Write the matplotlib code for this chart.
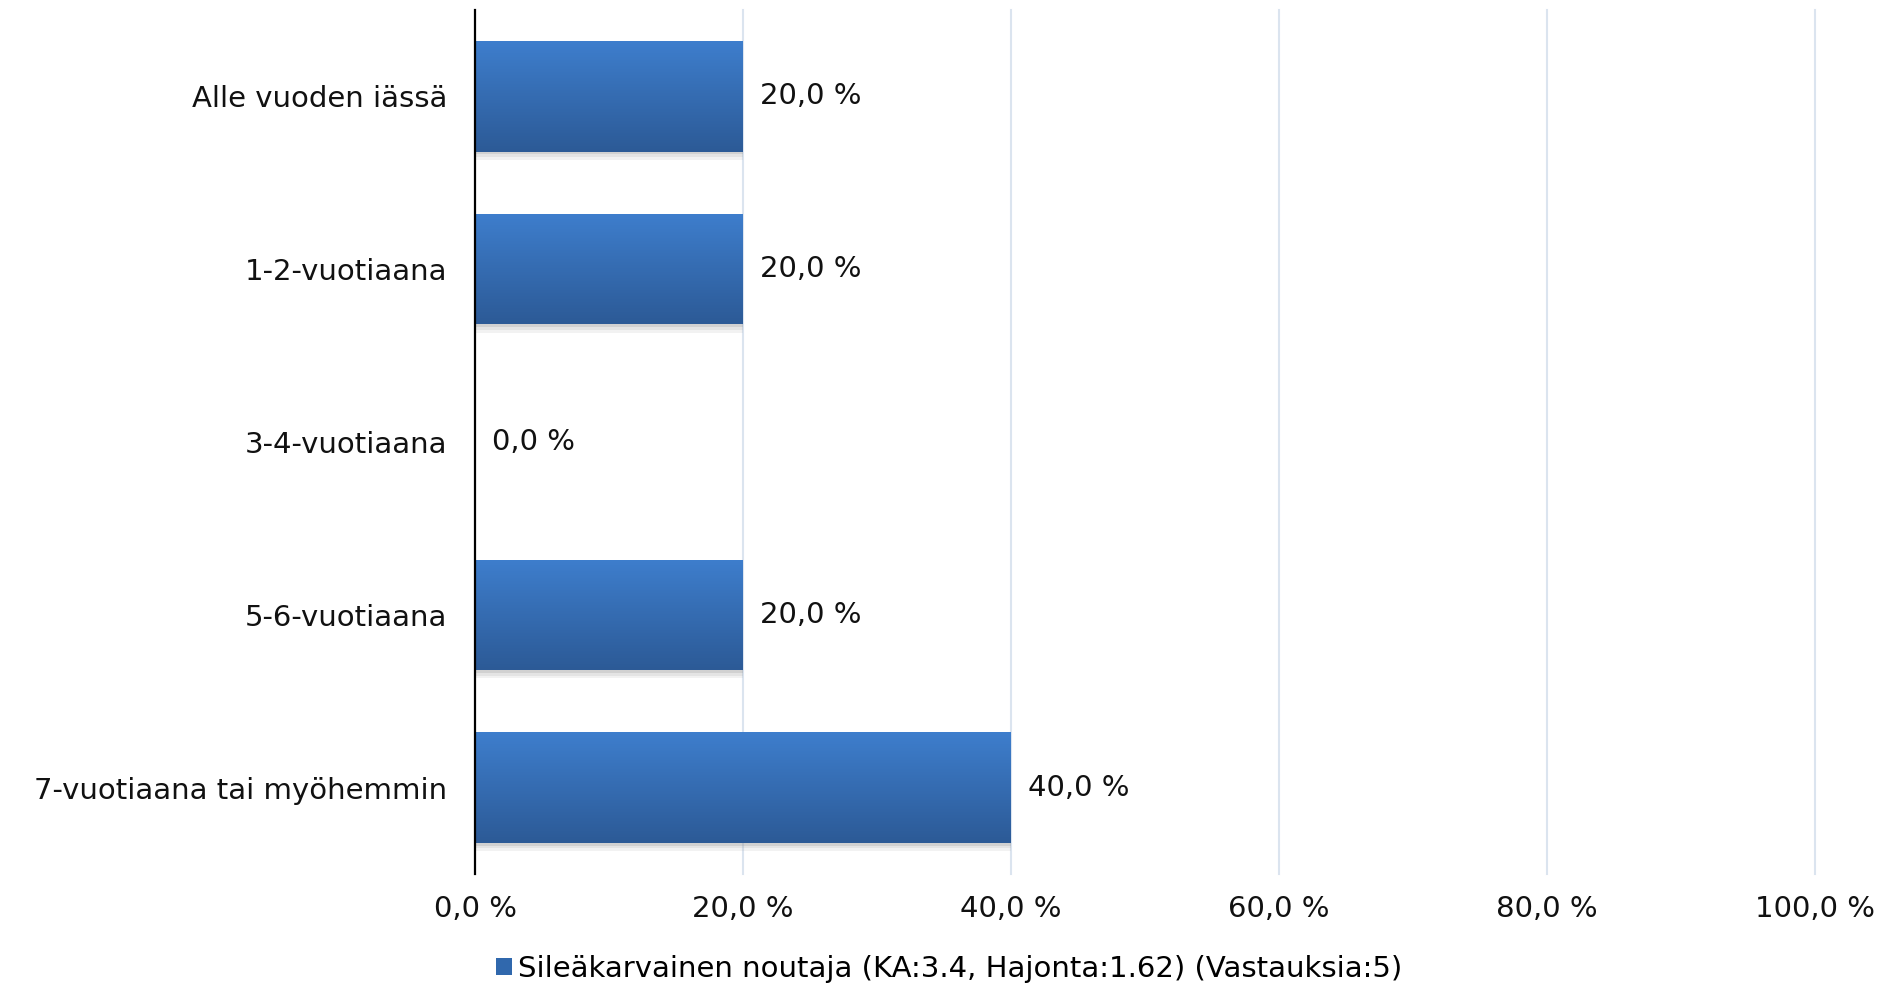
import numpy as np
import matplotlib
matplotlib.use("Agg")
import matplotlib.pyplot as plt
import matplotlib.patheffects as pe
from matplotlib.patches import Patch

categories = ["Alle vuoden iässä", "1-2-vuotiaana", "3-4-vuotiaana",
              "5-6-vuotiaana", "7-vuotiaana tai myöhemmin"]
values = [20.0, 20.0, 0.0, 20.0, 40.0]
xticks = [0, 20, 40, 60, 80, 100]
xtick_labels = ["0,0 %", "20,0 %", "40,0 %", "60,0 %", "80,0 %", "100,0 %"]
value_labels = ["20,0 %", "20,0 %", "0,0 %", "20,0 %", "40,0 %"]
legend_label = "Sileäkarvainen noutaja (KA:3.4, Hajonta:1.62) (Vastauksia:5)"

plt.rcParams['font.family'] = ['DejaVu Sans']
FS = 21

fig = plt.figure(figsize=(18.99, 9.89), dpi=100)
ax = fig.add_axes([475/1899, 1-874/989, (1815-475)/1899, (874-10)/989])

ypos = np.arange(len(categories))
bars = ax.barh(ypos, values, height=0.64, color="#3570b8", zorder=3,
               path_effects=[pe.SimplePatchShadow(offset=(0, -6), shadow_rgbFace="#999999", alpha=0.12),
                             pe.SimplePatchShadow(offset=(0, -4), shadow_rgbFace="#999999", alpha=0.15),
                             pe.SimplePatchShadow(offset=(0, -2), shadow_rgbFace="#888888", alpha=0.2),
                             pe.Normal()])

top_c = np.array([0x3e, 0x7e, 0xcd]) / 255
bot_c = np.array([0x2c, 0x5a, 0x96]) / 255
t = np.linspace(0, 1, 256)[:, None]
grad = (top_c[None, :] * (1 - t) + bot_c[None, :] * t)[:, None, :]

for b in bars:
    w = b.get_width()
    if w <= 0:
        continue
    y0 = b.get_y()
    h = b.get_height()
    im = ax.imshow(grad, extent=[0, w, y0 + h, y0], aspect='auto', zorder=4,
                   interpolation='bilinear')
    im.set_clip_path(b)

ax.set_xlim(0, 100)
ax.set_ylim(len(categories) - 0.5, -0.5)
ax.set_yticks(ypos)
ax.set_yticklabels(categories, fontsize=FS, color="#111111")
ax.set_xticks(xticks)
ax.set_xticklabels(xtick_labels, fontsize=FS, color="#111111")
ax.tick_params(axis='both', length=0)
ax.tick_params(axis='y', pad=20)
ax.tick_params(axis='x', pad=15)

for x in xticks[1:]:
    ax.axvline(x, color="#dbe4ef", lw=1.5, zorder=1, clip_on=False)

for s in ["top", "right", "bottom"]:
    ax.spines[s].set_visible(False)
ax.spines["left"].set_color("black")
ax.spines["left"].set_linewidth(1.6)
ax.spines["left"].set_zorder(6)

for yv, v, lab in zip(ypos, values, value_labels):
    ax.annotate(lab, xy=(v, yv), xytext=(12, 0), textcoords="offset points",
                va="center", ha="left", fontsize=FS, color="#111111")

handle = Patch(facecolor="#3068ad", edgecolor="none")
fig.legend([handle], [legend_label], loc="center", bbox_to_anchor=(0.5, 1 - 969/989),
           frameon=False, fontsize=FS, handlelength=0.55, handleheight=0.55,
           handletextpad=0.2)

fig.savefig("out.png", dpi=100, facecolor="white")
